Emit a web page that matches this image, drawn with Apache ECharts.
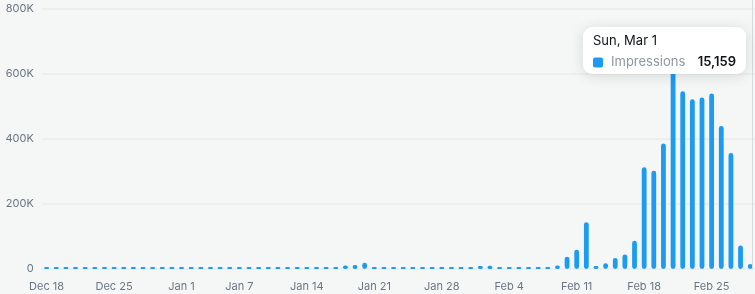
<!DOCTYPE html>
<html>
<head>
<meta charset="utf-8">
<script src="https://cdn.jsdelivr.net/npm/echarts@6/dist/echarts.min.js"></script>
<style>
  html, body { margin: 0; padding: 0; background: #f5f7f7; }
  #chart { width: 755px; height: 294px; }
</style>
</head>
<body>
<div id="chart"></div>
<script>
const categories = [
  'Dec 18','Dec 19','Dec 20','Dec 21','Dec 22','Dec 23','Dec 24','Dec 25','Dec 26','Dec 27','Dec 28','Dec 29','Dec 30','Dec 31',
  'Jan 1','Jan 2','Jan 3','Jan 4','Jan 5','Jan 6','Jan 7','Jan 8','Jan 9','Jan 10','Jan 11','Jan 12','Jan 13','Jan 14','Jan 15','Jan 16','Jan 17',
  'Jan 18','Jan 19','Jan 20','Jan 21','Jan 22','Jan 23','Jan 24','Jan 25','Jan 26','Jan 27','Jan 28','Jan 29','Jan 30','Jan 31',
  'Feb 1','Feb 2','Feb 3','Feb 4','Feb 5','Feb 6','Feb 7','Feb 8','Feb 9','Feb 10','Feb 11','Feb 12','Feb 13','Feb 14','Feb 15',
  'Feb 16','Feb 17','Feb 18','Feb 19','Feb 20','Feb 21','Feb 22','Feb 23','Feb 24','Feb 25','Feb 26','Feb 27','Feb 28','Mar 1'
];
const impressions = [
  300, 250, 400, 300, 350, 300, 250, 300, 280, 300, 350, 300, 260, 300,
  300, 320, 400, 380, 350, 420, 400, 380, 420, 450, 600, 700, 500, 450, 500, 600, 700,
  11000, 12000, 19000, 4000, 1500, 1200, 1000, 1300, 1500, 6000, 4000, 2500, 2500, 4500,
  9000, 10000, 1000, 800, 900, 700, 800, 600, 11000, 38000, 59000, 144000, 9000, 18000, 34000,
  45000, 87000, 313000, 302000, 386000, 640000, 547000, 522000, 528000, 540000, 440000, 357000, 72000, 15159
];
const tickLabels = ['Dec 18','Dec 25','Jan 1','Jan 7','Jan 14','Jan 21','Jan 28','Feb 4','Feb 11','Feb 18','Feb 25'];
const yTicks = [0, 200000, 400000, 600000, 800000];
const tooltipDate = 'Sun, Mar 1';
const tooltipSeries = 'Impressions';
const tooltipValue = '15,159';

const FONT = 'Inter, "Noto Sans", sans-serif';
const chart = echarts.init(document.getElementById('chart'), null, { renderer: 'canvas' });

chart.setOption({
  animation: false,
  backgroundColor: '#f5f7f7',
  grid: { left: 41.8, top: 9, width: 719.8, height: 260, containLabel: false },
  xAxis: {
    type: 'category',
    data: categories,
    boundaryGap: true,
    axisLine: { show: false },
    axisTick: { show: false },
    axisLabel: {
      interval: (idx, val) => tickLabels.includes(val),
      color: '#687684',
      fontFamily: FONT,
      fontSize: 11,
      margin: 12
    }
  },
  yAxis: {
    type: 'value',
    min: yTicks[0],
    max: yTicks[yTicks.length - 1],
    interval: yTicks[1] - yTicks[0],
    axisLine: { show: false },
    axisTick: { show: false },
    splitLine: { lineStyle: { color: '#e8ecec', width: 1.5 } },
    axisLabel: {
      color: '#687684',
      fontFamily: FONT,
      fontSize: 11,
      margin: 8,
      formatter: v => v === 0 ? '0' : (v / 1000) + 'K'
    }
  },
  series: [{
    type: 'bar',
    name: tooltipSeries,
    z: 2,
    data: impressions,
    barWidth: 4.8,
    barMinHeight: 2,
    itemStyle: { color: '#1d9bf0', borderRadius: 2.4 }
  }],
  graphic: {
    z: 100,
    elements: [
      {
        type: 'line', silent: true, z: 100,
        shape: { x1: 752.5, y1: 0, x2: 752.5, y2: 269 },
        style: { stroke: '#d6dbdb', lineWidth: 1 }
      },
      {
        type: 'rect', z: 100, x: 583, y: 27,
        shape: { x: 0, y: 0, width: 163, height: 47, r: 9 },
        style: { fill: '#ffffff', shadowBlur: 14, shadowColor: 'rgba(0,0,0,0.13)', shadowOffsetY: 2 }
      },
      {
        type: 'text', z: 101, x: 593, y: 41,
        style: { text: tooltipDate, fill: '#0f1419', font: '13px ' + FONT, textVerticalAlign: 'middle' }
      },
      {
        type: 'rect', z: 101, x: 593, y: 57.5,
        shape: { x: 0, y: 0, width: 10, height: 10, r: 2 },
        style: { fill: '#1d9bf0' }
      },
      {
        type: 'text', z: 101, x: 611, y: 62.5,
        style: { text: tooltipSeries, fill: '#8b98a5', font: '13px ' + FONT, textVerticalAlign: 'middle' }
      },
      {
        type: 'text', z: 101, x: 736, y: 62.5,
        style: { text: tooltipValue, fill: '#0f1419', font: '600 13px ' + FONT, textAlign: 'right', textVerticalAlign: 'middle' }
      }
    ]
  }
});
</script>
</body>
</html>
